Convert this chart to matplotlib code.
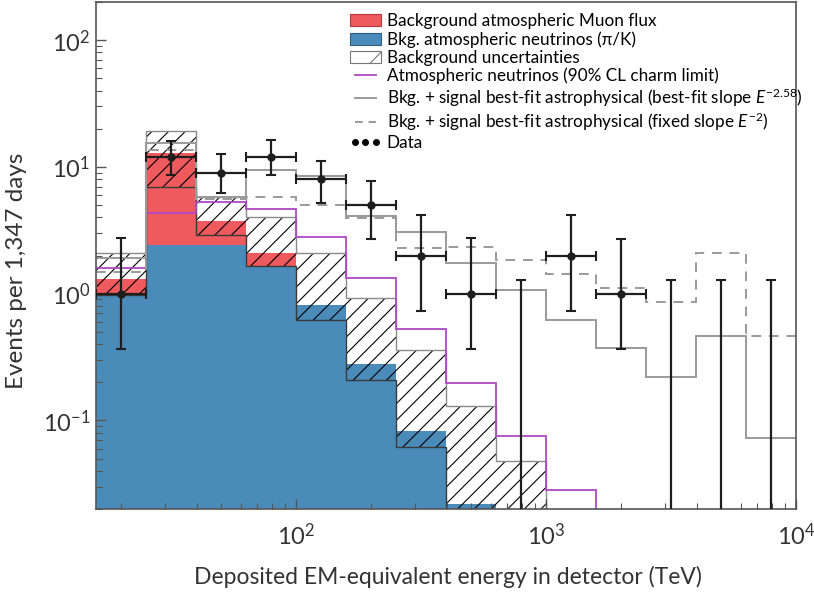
import numpy as np
import matplotlib
matplotlib.use("Agg")
import matplotlib.pyplot as plt
from matplotlib.patches import Patch
from matplotlib.lines import Line2D

plt.rcParams["font.family"] = ["Lato", "DejaVu Sans"]
plt.rcParams["mathtext.fontset"] = "custom"
plt.rcParams["mathtext.rm"] = "Lato"
plt.rcParams["mathtext.it"] = "Lato:italic"
plt.rcParams["hatch.linewidth"] = 0.8
plt.rcParams["hatch.color"] = "black"

# bin edges (TeV), 0.2 decade bins
edges = np.array([15.85, 25.12, 39.81, 63.10, 100.0, 158.5, 251.2, 398.1,
                  631.0, 1000.0, 1585.0, 2512.0, 3981.0, 6310.0, 10000.0])

# stacked background (bins 0..8 for neutrinos, 0..3 for muons)
nu_pik = [0.99, 2.44, 2.44, 1.65, 0.81, 0.28, 0.082, 0.022, 0.008]
muon_top = [1.31, 12.9, 3.76, 2.08]          # muon + neutrinos

# background uncertainty band (bins 0..9)
band_lo = [0.98, 6.96, 2.9, 1.66, 0.62, 0.21, 0.062, 0.012, 0.005, 0.002]
band_hi = [2.08, 19.1, 5.75, 3.99, 2.10, 0.92, 0.36, 0.129, 0.0475, 0.015]

# atmospheric neutrinos with 90% CL charm limit (bins 0..10)
charm = [1.60, 4.34, 5.24, 4.64, 2.81, 1.32, 0.53, 0.199, 0.075, 0.028, 0.001]

# bkg + signal best fit (all 14 bins)
fit_258 = [1.90, 15.5, 5.8, 9.5, 8.5, 4.1, 3.08, 1.76, 1.07, 0.62, 0.37, 0.222, 0.467, 0.072]
fit_2 = [1.47, 13.7, 5.6, 5.8, 5.0, 3.95, 2.3, 2.34, 1.84, 1.42, 1.10, 0.865, 2.1, 0.467]

# data
data_bin = [0, 1, 2, 3, 4, 5, 6, 7, 9, 10]
data_val = [1, 12, 9, 12, 8, 5, 2, 1, 2, 1]
data_lo = [0.365, 8.7, 6.24, 8.7, 5.2, 2.7, 0.73, 0.366, 0.73, 0.365]
data_hi = [2.73, 16.0, 12.6, 16.2, 11.1, 7.77, 4.2, 2.73, 4.2, 2.7]
ul_bin = [8, 11, 12, 13]
ul_val = [1.29, 1.29, 1.29, 1.29]

c_red = "#ee5a5e"
c_blue = "#4a8bb9"
c_mag = "#b049c4"
c_grey = "#9a9a9a"

fig = plt.figure(figsize=(8.14, 5.96), dpi=100)
ax = fig.add_axes([96 / 814, 87 / 596, 700 / 814, 507 / 596])
ax.set_xscale("log")
ax.set_yscale("log")

nb = len(nu_pik)
ax.stairs(nu_pik, edges[:nb + 1], baseline=1e-4, fill=True, color=c_blue, lw=0)
nm = len(muon_top)
ax.stairs(muon_top, edges[:nm + 1], baseline=nu_pik[:nm], fill=True, color=c_red, lw=0)

nu = len(band_hi)
ax.stairs(band_hi, edges[:nu + 1], baseline=band_lo, fill=True, facecolor="none",
          edgecolor="black", hatch="//", lw=0)
ax.stairs(band_hi, edges[:nu + 1], baseline=None, color="#8a8a8a", lw=1.0)
ax.stairs(band_lo, edges[:nu + 1], baseline=None, color="#3a3a3a", lw=1.0)

ax.stairs(charm, edges[:len(charm) + 1], baseline=None, color=c_mag, lw=1.3)
ax.stairs(fit_258, edges, baseline=None, color=c_grey, lw=1.4)
ax.stairs(fit_2, edges, baseline=None, color=c_grey, lw=1.4, linestyle=(0, (5, 4)))

centers = np.sqrt(edges[:-1] * edges[1:])
xd = centers[data_bin]
xl = xd - edges[:-1][data_bin]
xh = edges[1:][data_bin] - xd
yv = np.array(data_val, dtype=float)
ax.errorbar(xd, yv, yerr=[yv - np.array(data_lo), np.array(data_hi) - yv],
            xerr=[xl, xh], fmt="o", color="#1e1e1e", ms=5, elinewidth=1.6,
            capsize=3.5, capthick=1.5, zorder=5)
xu = centers[ul_bin]
uv = np.array(ul_val)
ax.errorbar(xu, uv, yerr=[uv - 1e-4, np.zeros_like(uv)], fmt="none",
            ecolor="#1e1e1e", elinewidth=1.6, capsize=3.5, capthick=1.5, zorder=5)

ax.set_xlim(edges[0], edges[-1])
ax.set_ylim(0.02, 200)

for s in ax.spines.values():
    s.set_color("#555555")
    s.set_linewidth(1.2)
ax.tick_params(which="both", direction="in", colors="#555555", labelcolor="#333333")
ax.tick_params(which="major", length=7, width=1, labelsize=17)
ax.tick_params(which="minor", length=4, width=0.8)
ax.tick_params(axis="x", which="major", pad=10)
ax.tick_params(axis="y", which="major", pad=4)

ax.set_xlabel("Deposited EM-equivalent energy in detector (TeV)", fontsize=16.5,
              color="#333333")
ax.set_ylabel("Events per 1,347 days", fontsize=17.5, color="#333333")
ax.xaxis.set_label_coords(0.503, -0.112)
ax.yaxis.set_label_coords(-0.099, 0.47)

handles = [
    Patch(facecolor=c_red, edgecolor="#b03a3e", lw=0.8),
    Patch(facecolor=c_blue, edgecolor="#2d5f85", lw=0.8),
    Patch(facecolor="white", edgecolor="#777777", hatch="/", lw=0.8),
    Line2D([], [], color=c_mag, lw=1.3),
    Line2D([], [], color=c_grey, lw=1.4),
    Line2D([], [], color=c_grey, lw=1.4, linestyle=(0, (4, 3))),
    Line2D([], [], color="black", marker="o", ls="none", ms=4),
]
labels = [
    "Background atmospheric Muon flux",
    "Bkg. atmospheric neutrinos (\u03c0/K)",
    "Background uncertainties",
    "Atmospheric neutrinos (90% CL charm limit)",
    "Bkg. + signal best-fit astrophysical (best-fit slope $E^{-2.58}$)",
    "Bkg. + signal best-fit astrophysical (fixed slope $E^{-2}$)",
    "Data",
]
ax.legend(handles, labels, loc="upper left", bbox_to_anchor=(0.363, 0.978),
          frameon=False, fontsize=12.3, handlelength=1.8, handletextpad=0.35,
          labelspacing=0.12, numpoints=3, borderaxespad=0, borderpad=0)

fig.savefig("out.png", dpi=100)
